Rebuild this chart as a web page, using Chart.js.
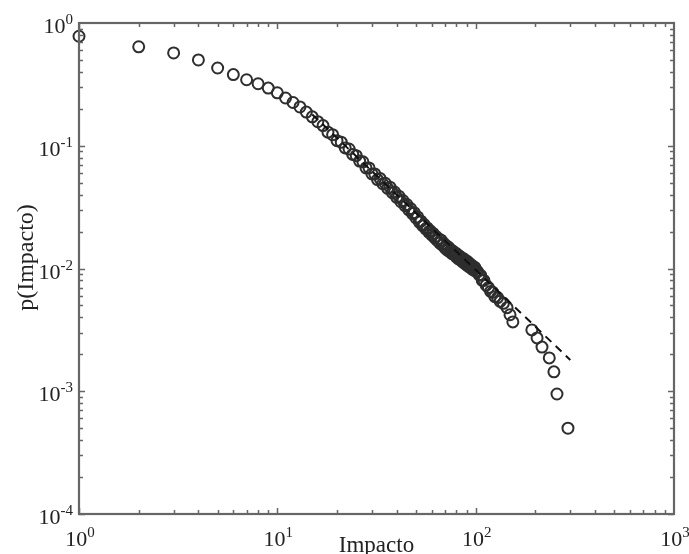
<!DOCTYPE html>
<html>
<head>
<meta charset="utf-8">
<script src="https://cdn.jsdelivr.net/npm/chart.js@4"></script>
<style>
  body { margin: 0; background: #fff; }
</style>
</head>
<body>
<canvas id="myChart" width="689" height="554"></canvas>
<script>
// impact values (x) and p(Impacto)
const impactX = [
  1, 2, 3, 4, 5, 6, 7, 8, 9, 10, 11, 12, 13, 14, 15, 16,
  17, 18, 19, 20, 21, 22, 23, 24, 25, 26, 27, 28, 29, 30,
  31, 32, 33, 34, 35, 36, 37, 38, 39, 40, 41, 42, 43, 44, 45,
  46, 47, 48, 49, 50, 51, 52, 53, 54, 55, 56, 57, 58, 59, 60,
  61, 62, 63, 64, 65, 66, 67, 68, 69, 70, 71, 72, 73, 74, 75,
  76, 77, 78, 79, 80, 81, 82, 83, 84, 85, 86, 87, 88, 89, 90,
  91, 92, 93, 94, 95, 96, 97, 98, 99, 100,
  102, 104, 106, 108, 110, 113, 116, 119, 122, 125, 129, 133, 138, 144,
  149, 154, 192, 204, 216, 235, 248, 257, 292
];
const impactP = [
  0.78, 0.64, 0.57, 0.50, 0.43, 0.38, 0.345, 0.32, 0.295, 0.27, 0.245, 0.225, 0.207, 0.188, 0.172, 0.157,
  0.146, 0.129, 0.123, 0.110, 0.107, 0.096, 0.094, 0.085, 0.083, 0.075, 0.074, 0.066, 0.066, 0.059,
  0.059, 0.053, 0.054, 0.049, 0.0495, 0.045, 0.046, 0.0415, 0.042, 0.038, 0.0388, 0.035, 0.0358, 0.0325, 0.0332,
  0.030, 0.0308, 0.028, 0.0285, 0.0258, 0.0263, 0.0239, 0.0243, 0.0223, 0.0228, 0.021, 0.0214, 0.0198, 0.0203, 0.0188,
  0.0193, 0.0178, 0.0183, 0.0169, 0.0175, 0.0161, 0.0170, 0.0155, 0.0160, 0.0147, 0.0154, 0.0141, 0.0149, 0.0137, 0.0142,
  0.0132, 0.0138, 0.0129, 0.0134, 0.0124, 0.0130, 0.0120, 0.0126, 0.0117, 0.0122, 0.0113, 0.0120, 0.0110, 0.0116, 0.0107,
  0.0114, 0.0104, 0.0110, 0.0102, 0.0107, 0.0099, 0.0104, 0.0097, 0.0102, 0.0095,
  0.0095, 0.0089, 0.0088, 0.0080, 0.0080, 0.0073, 0.0070, 0.0065, 0.0064, 0.0059, 0.0058, 0.0054, 0.0052, 0.0048,
  0.0042, 0.00367, 0.00316, 0.00272, 0.00229, 0.00187, 0.00144, 0.00095, 0.0005
];
// dashed fit line end points
const fitX = [15, 300];
const fitP = [0.18, 0.0018];

const xDecades = [0, 1, 2, 3];
const yDecades = [0, -1, -2, -3, -4];

const points = impactX.map((x, i) => ({ x: x, y: impactP[i] }));
const fitLine = fitX.map((x, i) => ({ x: x, y: fitP[i] }));

const FONT = "'Liberation Serif', 'DejaVu Serif', serif";

function drawPow(ctx, exp, x, y, mode) {
  ctx.fillStyle = '#222';
  ctx.textBaseline = 'alphabetic';
  ctx.font = '22px ' + FONT;
  const wb = ctx.measureText('10').width;
  ctx.font = '15px ' + FONT;
  const we = ctx.measureText(exp).width;
  let bx;
  if (mode == 'x') {
    bx = x - (wb + we) / 2 + 1;
  } else {
    bx = x - wb - we;
  }
  ctx.font = '22px ' + FONT;
  ctx.textAlign = 'left';
  ctx.fillText('10', bx, y);
  ctx.font = '15px ' + FONT;
  ctx.fillText(exp, bx + wb, y - 9);
}

const axesPlugin = {
  id: 'axesPlugin',
  afterDraw(chart) {
    const ctx = chart.ctx;
    const a = chart.chartArea;
    const xs = chart.scales.x;
    const ys = chart.scales.y;
    ctx.save();
    ctx.strokeStyle = '#666';
    ctx.lineWidth = 1.5;
    // minor and major ticks, inward on all four sides
    for (let d = 0; d < 3; d++) {
      for (let m = 1; m <= 9; m++) {
        const px = Math.round(xs.getPixelForValue(m * Math.pow(10, d))) + 0.5;
        const len = m == 1 ? 6 : 4;
        ctx.beginPath();
        ctx.moveTo(px, a.bottom); ctx.lineTo(px, a.bottom - len);
        ctx.moveTo(px, a.top); ctx.lineTo(px, a.top + len);
        ctx.stroke();
      }
    }
    for (let d = -4; d < 0; d++) {
      for (let m = 1; m <= 9; m++) {
        const py = Math.round(ys.getPixelForValue(m * Math.pow(10, d))) + 0.5;
        const len = m == 1 ? 6 : 4;
        ctx.beginPath();
        ctx.moveTo(a.left, py); ctx.lineTo(a.left + len, py);
        ctx.moveTo(a.right, py); ctx.lineTo(a.right - len, py);
        ctx.stroke();
      }
    }
    // frame
    ctx.lineWidth = 2.2;
    ctx.strokeRect(a.left, a.top, a.right - a.left, a.bottom - a.top);

    // tick labels
    xDecades.forEach(d => {
      drawPow(ctx, String(d), xs.getPixelForValue(Math.pow(10, d)), a.bottom + 32, 'x');
    });
    yDecades.forEach(d => {
      drawPow(ctx, String(d), a.left - 6, ys.getPixelForValue(Math.pow(10, d)) + 10, 'y');
    });

    // axis titles
    ctx.fillStyle = '#222';
    ctx.font = '23px ' + FONT;
    ctx.textAlign = 'center';
    ctx.textBaseline = 'alphabetic';
    ctx.fillText('Impacto', (a.left + a.right) / 2, 552);
    ctx.save();
    ctx.font = '24px ' + FONT;
    ctx.translate(33, (a.top + a.bottom) / 2 - 11);
    ctx.rotate(-Math.PI / 2);
    ctx.fillText('p(Impacto)', 0, 0);
    ctx.restore();
    ctx.restore();
  }
};

const config = {
  type: 'scatter',
  data: {
    datasets: [
      {
        type: 'line',
        data: fitLine,
        borderColor: '#111',
        borderWidth: 2,
        borderDash: [8, 6],
        pointRadius: 0,
        fill: false,
        order: 0,
        clip: false
      },
      {
        data: points,
        pointStyle: 'circle',
        pointRadius: 5.5,
        pointBorderWidth: 2,
        borderColor: '#2e2e2e',
        backgroundColor: 'rgba(0,0,0,0)',
        order: 1,
        clip: false
      }
    ]
  },
  options: {
    responsive: false,
    devicePixelRatio: 1,
    animation: false,
    layout: { padding: { left: 79, top: 23, right: 15, bottom: 40 } },
    plugins: {
      legend: { display: false },
      tooltip: { enabled: false }
    },
    scales: {
      x: { type: 'logarithmic', min: 1, max: 1000, display: false },
      y: { type: 'logarithmic', min: 0.0001, max: 1, display: false }
    }
  },
  plugins: [axesPlugin]
};

const myChart = new Chart(document.getElementById('myChart'), config);
</script>
</body>
</html>
